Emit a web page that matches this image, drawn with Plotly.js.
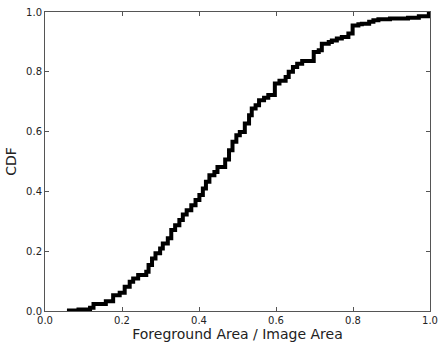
<!DOCTYPE html>
<html>
<head>
<meta charset="utf-8">
<script src="https://cdn.plot.ly/plotly-3.0.1.min.js"></script>
<style>html,body{margin:0;padding:0;background:#fff;}#chart{width:438px;height:343px;}</style>
</head>
<body>
<div id="chart"></div>
<script>
const areaRatio = [0.057, 0.087, 0.117, 0.126, 0.158, 0.177, 0.194, 0.207, 0.220, 0.229, 0.242, 0.263, 0.269, 0.278, 0.287, 0.299, 0.306, 0.319, 0.328, 0.338, 0.349, 0.358, 0.368, 0.380, 0.391, 0.401, 0.410, 0.418, 0.427, 0.440, 0.448, 0.468, 0.478, 0.487, 0.497, 0.506, 0.519, 0.530, 0.537, 0.547, 0.556, 0.569, 0.580, 0.597, 0.609, 0.625, 0.633, 0.644, 0.655, 0.668, 0.698, 0.711, 0.719, 0.737, 0.745, 0.758, 0.771, 0.788, 0.799, 0.814, 0.823, 0.842, 0.853, 0.866, 0.896, 0.943, 0.971, 0.997, 1.0];
const cdfValues = [0.002, 0.005, 0.011, 0.023, 0.033, 0.053, 0.061, 0.081, 0.098, 0.109, 0.12, 0.131, 0.154, 0.176, 0.193, 0.209, 0.226, 0.243, 0.271, 0.287, 0.304, 0.323, 0.337, 0.354, 0.371, 0.388, 0.41, 0.432, 0.454, 0.465, 0.482, 0.507, 0.538, 0.566, 0.588, 0.599, 0.627, 0.655, 0.677, 0.688, 0.705, 0.713, 0.722, 0.761, 0.77, 0.783, 0.80, 0.816, 0.827, 0.836, 0.866, 0.872, 0.894, 0.90, 0.905, 0.911, 0.916, 0.928, 0.955, 0.959, 0.961, 0.967, 0.972, 0.976, 0.978, 0.981, 0.986, 0.993, 0.997];
const tickVals = [0, 0.2, 0.4, 0.6, 0.8, 1.0];
const tickText = ["0.0", "0.2", "0.4", "0.6", "0.8", "1.0"];
const xTitle = "Foreground Area / Image Area";
const yTitle = "CDF";

const axisCommon = {
  range: [0, 1],
  tickvals: tickVals,
  ticktext: tickText,
  ticks: "inside",
  ticklen: 4,
  tickwidth: 1,
  tickcolor: "#555",
  showline: true,
  linecolor: "#555",
  linewidth: 1,
  mirror: "ticks",
  showgrid: false,
  zeroline: false,
  ticklabeloverflow: "allow",
  tickfont: {family: "DejaVu Sans", size: 10, color: "#222"}
};

Plotly.newPlot("chart", [{
  x: areaRatio,
  y: cdfValues,
  mode: "lines",
  line: {shape: "hv", color: "#000", width: 4},
  cliponaxis: true,
  hoverinfo: "skip"
}], {
  width: 438,
  height: 343,
  margin: {l: 45, r: 8, t: 12, b: 32},
  paper_bgcolor: "#fff",
  plot_bgcolor: "#fff",
  showlegend: false,
  font: {family: "DejaVu Sans", color: "#222"},
  xaxis: Object.assign({}, axisCommon, {
    title: {text: xTitle, font: {family: "DejaVu Sans", size: 14, color: "#222"}, standoff: 2}
  }),
  yaxis: Object.assign({}, axisCommon, {
    title: {text: yTitle, font: {family: "DejaVu Sans", size: 14, color: "#222"}, standoff: 6}
  })
}, {staticPlot: true, displayModeBar: false});
</script>
</body>
</html>
